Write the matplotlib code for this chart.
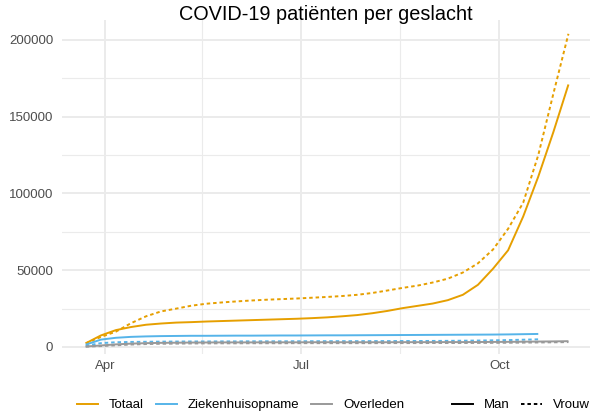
import matplotlib
matplotlib.use('Agg')
import matplotlib.pyplot as plt
from matplotlib.lines import Line2D
import pandas as pd

# Данные: накопленные значения по неделям (в тысячах)
dates = pd.date_range('2020-03-23', periods=33, freq='7D')

totaal_man = [2.4, 7.5, 11, 13, 14.5, 15.3, 15.9, 16.2, 16.6, 16.9, 17.2, 17.5, 17.8,
              18.1, 18.4, 18.8, 19.3, 20.0, 20.8, 22, 23.5, 25.3, 26.8, 28.3, 30.5,
              34, 40.5, 51, 63, 85, 111, 140, 171]
totaal_vrouw = [2.4, 6.5, 10, 15.5, 20, 23.2, 25.0, 26.9, 28.2, 29.0, 29.7, 30.3, 30.8,
                31.2, 31.6, 32.1, 32.6, 33.2, 34.0, 35.2, 36.8, 38.5, 40, 42, 44.5,
                48.5, 54.5, 63.5, 77, 94, 125, 165, 204]

# Ziekenhuisopname - 31 недель
zkh_man = [1.5, 4.8, 6.0, 6.6, 6.9, 7.1, 7.2, 7.3, 7.3, 7.35, 7.4, 7.4, 7.45, 7.5, 7.5,
           7.55, 7.6, 7.6, 7.65, 7.7, 7.75, 7.8, 7.85, 7.9, 7.95, 8.0, 8.05, 8.1, 8.2,
           8.35, 8.5]
zkh_vrouw = [0.8, 2.5, 3.1, 3.3, 3.4, 3.5, 3.55, 3.6, 3.6, 3.65, 3.65, 3.7, 3.7, 3.7,
             3.75, 3.75, 3.8, 3.8, 3.8, 3.85, 3.85, 3.9, 3.9, 3.95, 4.0, 4.1, 4.2, 4.35,
             4.5, 4.75, 5.0]

overleden_man = [0.3, 1.0, 1.7, 2.2, 2.5, 2.7, 2.8, 2.9, 2.95, 3.0, 3.0, 3.0, 3.05,
                 3.05, 3.05, 3.1, 3.1, 3.1, 3.1, 3.1, 3.1, 3.15, 3.15, 3.15, 3.2, 3.2,
                 3.25, 3.3, 3.35, 3.45, 3.55, 3.65, 3.8]
overleden_vrouw = [0.2, 0.6, 1.1, 1.6, 1.9, 2.1, 2.2, 2.3, 2.35, 2.4, 2.4, 2.45, 2.45,
                   2.45, 2.5, 2.5, 2.5, 2.5, 2.5, 2.5, 2.55, 2.55, 2.55, 2.6, 2.6, 2.6,
                   2.65, 2.7, 2.75, 2.85, 2.95, 3.05, 3.2]

categorieen = ['Totaal', 'Ziekenhuisopname', 'Overleden']
geslachten = ['Man', 'Vrouw']
kleuren = ['#E69F00', '#56B4E9', '#999999']

series = {
    'Totaal': (totaal_man, totaal_vrouw),
    'Ziekenhuisopname': (zkh_man, zkh_vrouw),
    'Overleden': (overleden_man, overleden_vrouw),
}

plt.rcParams['font.family'] = ['Liberation Sans', 'DejaVu Sans']

fig = plt.figure(figsize=(5.9, 4.19), dpi=100)
ax = fig.add_axes([62 / 590, 1 - 354 / 419, 1 - 62 / 590, (354 - 20) / 419])

lw = 1.4
stippel = (0, (1.8, 1.5))
for cat, kleur in zip(categorieen, kleuren):
    man, vrouw = series[cat]
    n = len(man)
    ax.plot(dates[:n], [v * 1000 for v in man], color=kleur, lw=lw, solid_capstyle='butt')
    ax.plot(dates[:n], [v * 1000 for v in vrouw], color=kleur, lw=lw, linestyle=stippel)

# Оси
ax.set_xlim(pd.Timestamp('2020-03-12'), pd.Timestamp('2020-11-12'))
ax.set_ylim(-4560, 213000)

ax.set_xticks([pd.Timestamp('2020-04-01'), pd.Timestamp('2020-07-01'), pd.Timestamp('2020-10-01')])
ax.set_xticklabels(['Apr', 'Jul', 'Oct'])
ax.set_xticks([pd.Timestamp('2020-05-16'), pd.Timestamp('2020-08-16')], minor=True)
ax.set_yticks([0, 50000, 100000, 150000, 200000])
ax.set_yticklabels(['0', '50000', '100000', '150000', '200000'])
ax.set_yticks([25000, 75000, 125000, 175000], minor=True)

ax.grid(True, which='major', color='#EBEBEB', lw=1.4)
ax.grid(True, which='minor', color='#EBEBEB', lw=0.8)
ax.set_axisbelow(True)
for s in ax.spines.values():
    s.set_visible(False)
ax.tick_params(which='both', length=0)
ax.tick_params(axis='y', pad=6.3, labelsize=9.5, labelcolor='#4D4D4D')
ax.tick_params(axis='x', pad=4.5, labelsize=9.5, labelcolor='#4D4D4D')

fig.suptitle('COVID-19 patiënten per geslacht', x=(62 + 590) / 2 / 590, y=1 - 15 / 419,
             va='center', fontsize=14.3)

# Легенды
h1 = [Line2D([], [], color=k, lw=lw) for k in kleuren]
leg1 = fig.legend(h1, categorieen, loc='center left', bbox_to_anchor=(76.9 / 590, 1 - 405 / 419),
                  ncol=3, frameon=False, fontsize=9.5, handlelength=1.6, handletextpad=0.85,
                  columnspacing=0.87, borderpad=0, borderaxespad=0)
h2 = [Line2D([], [], color='black', lw=lw),
      Line2D([], [], color='black', lw=lw, linestyle=stippel)]
leg2 = fig.legend(h2, geslachten, loc='center left', bbox_to_anchor=(451.5 / 590, 1 - 405 / 419),
                  ncol=2, frameon=False, fontsize=9.5, handlelength=1.6, handletextpad=0.85,
                  columnspacing=0.87, borderpad=0, borderaxespad=0)

fig.savefig('out.png', dpi=100)
